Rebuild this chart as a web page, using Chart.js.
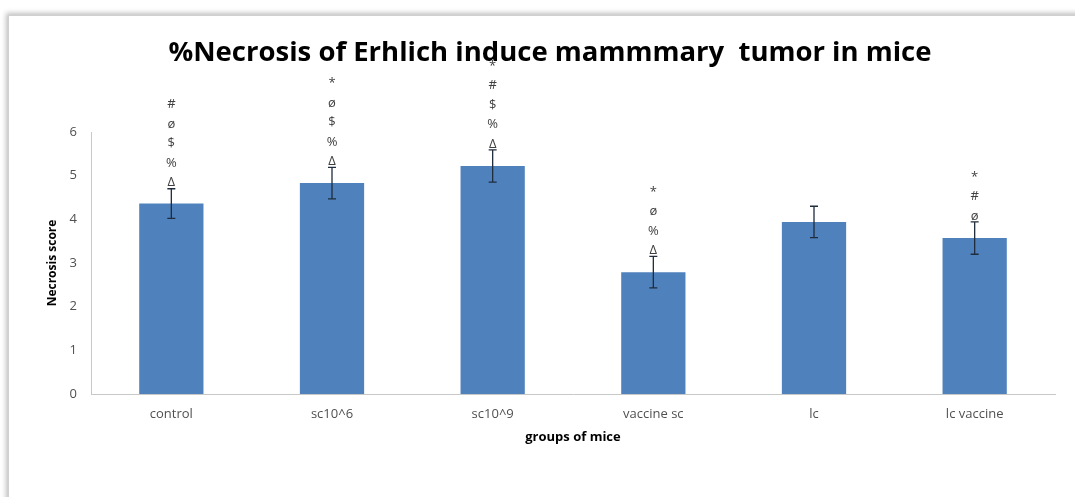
<!DOCTYPE html>
<html>
<head>
<meta charset="utf-8">
<script src="https://cdn.jsdelivr.net/npm/chart.js@4"></script>
<style>
  html, body { margin: 0; padding: 0; background: #fff; }
  #wrap { position: relative; width: 1075px; height: 497px; overflow: hidden; }
  #frame {
    position: absolute; left: 8px; top: 15px; width: 1200px; height: 600px;
    border: 1px solid #d0d0d0; box-shadow: -2px -2px 5px rgba(0,0,0,0.25);
  }
  canvas { position: absolute; left: 0; top: 0; }
</style>
</head>
<body>
<div id="wrap">
  <div id="frame"></div>
  <canvas id="necrosisChart" width="1075" height="497"></canvas>
</div>
<script>
// groups and necrosis scores
const groups = ['control', 'sc10^6', 'sc10^9', 'vaccine sc', 'lc', 'lc vaccine'];
const scores = [4.36, 4.83, 5.22, 2.79, 3.94, 3.57];
const errors = [0.34, 0.36, 0.37, 0.36, 0.36, 0.37];
// significance marks, top to bottom
const marks = [
  ['#', 'ø', '$', '%', 'Δ'],
  ['*', 'ø', '$', '%', 'Δ'],
  ['*', '#', '$', '%', 'Δ'],
  ['*', 'ø', '%', 'Δ'],
  [],
  ['*', '#', 'ø']
];
const yTicks = [0, 1, 2, 3, 4, 5, 6];

const FONT = "'Open Sans', 'Liberation Sans', sans-serif";

// error bars + marks above them
const errorBarPlugin = {
  id: 'errorBars',
  afterDatasetsDraw(chart) {
    const ctx = chart.ctx;
    const meta = chart.getDatasetMeta(0);
    const y = chart.scales.y;
    ctx.save();
    meta.data.forEach((bar, i) => {
      const x = bar.x;
      const hi = y.getPixelForValue(scores[i] + errors[i]);
      const lo = y.getPixelForValue(scores[i] - errors[i]);
      ctx.strokeStyle = '#1f2d3d';
      ctx.lineWidth = 1.3;
      ctx.beginPath();
      ctx.moveTo(x, hi); ctx.lineTo(x, lo);
      ctx.moveTo(x - 4, hi); ctx.lineTo(x + 4, hi);
      ctx.moveTo(x - 4, lo); ctx.lineTo(x + 4, lo);
      ctx.stroke();

      ctx.fillStyle = '#404040';
      ctx.font = '13px ' + FONT;
      ctx.textAlign = 'center';
      ctx.textBaseline = 'middle';
      const list = marks[i];
      list.forEach((m, k) => {
        const fromBottom = list.length - 1 - k;
        ctx.fillText(m, x, hi - 6 - fromBottom * 19.5);
      });
    });
    ctx.restore();
  }
};

new Chart(document.getElementById('necrosisChart'), {
  type: 'bar',
  data: {
    labels: groups,
    datasets: [{
      label: 'Necrosis score',
      data: scores,
      backgroundColor: '#4f81bd',
      borderColor: '#4f81bd',
      borderWidth: 0,
      barPercentage: 0.4,
      categoryPercentage: 1
    }]
  },
  options: {
    responsive: false,
    animation: false,
    layout: { padding: { left: 45, right: 20, top: 0, bottom: 48 } },
    plugins: {
      legend: { display: false },
      tooltip: { enabled: false },
      title: {
        display: true,
        text: '%Necrosis of Erhlich induce mammmary  tumor in mice',
        color: '#000',
        font: { family: FONT, size: 27.5, weight: 'bold' },
        padding: { top: 37, bottom: 62 }
      }
    },
    scales: {
      x: {
        grid: { display: false, drawTicks: false },
        border: { display: true, color: '#c8c8c8', width: 1 },
        ticks: { color: '#505050', font: { family: FONT, size: 13 }, padding: 12 },
        title: {
          display: true, text: 'groups of mice', color: '#000',
          font: { family: FONT, size: 13, weight: 'bold' },
          padding: { top: 0, bottom: 4 }
        },
        afterFit(scale) { scale.height = 55; }
      },
      y: {
        min: 0, max: 6,
        afterBuildTicks(scale) { scale.ticks = yTicks.map(v => ({ value: v })); },
        grid: { display: false, drawTicks: false },
        border: { display: true, color: '#c8c8c8', width: 1 },
        ticks: { color: '#505050', font: { family: FONT, size: 13 }, padding: 14 },
        title: {
          display: true, text: 'Necrosis score', color: '#000',
          font: { family: FONT, size: 12, weight: 'bold' },
          padding: { top: 0, bottom: 0 }
        },
        afterFit(scale) { scale.width = 46; }
      }
    }
  },
  plugins: [errorBarPlugin]
});
</script>
</body>
</html>
